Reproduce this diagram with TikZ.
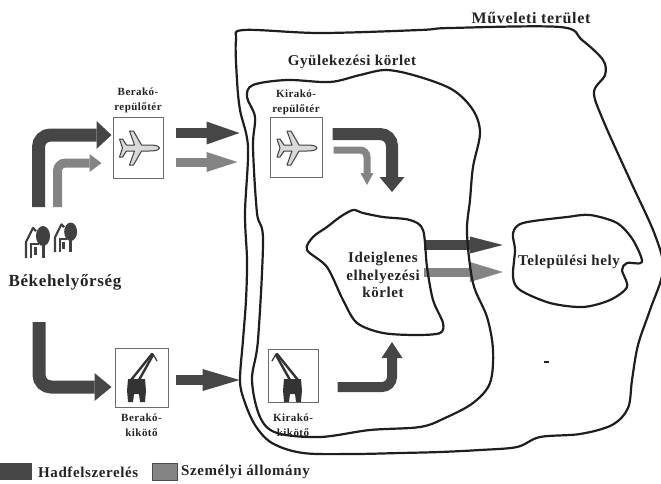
\documentclass[tikz,border=0pt]{standalone}
\usepackage{fontspec}
\setmainfont{Liberation Serif}[LetterSpace=4]
\usetikzlibrary{arrows.meta}

\definecolor{hadgray}{RGB}{70,70,70}
\definecolor{szemgray}{RGB}{132,132,132}
\definecolor{linegray}{RGB}{30,30,30}
\definecolor{textgray}{RGB}{35,35,35}

\tikzset{
  region/.style={draw=linegray, line width=2.2pt, line join=round},
  iconbox/.style={draw=gray!85!black, line width=1pt, fill=white, inner sep=0pt},
  boxlabel/.style={font=\bfseries\fontsize{11}{15}\selectfont, align=center, text=textgray, inner sep=0pt},
  bigtext/.style={font=\bfseries\fontsize{15}{17.5}\selectfont, align=center, text=textgray, inner sep=0pt},
  hadarrow/.style={draw=hadgray, line width=#1},
  szemarrow/.style={draw=szemgray, line width=#1},
  plane/.pic={
    \filldraw[fill=gray!30, draw=black!75, line width=1pt, line join=round]
      (21,0) .. controls (20,-2.5) and (16,-3) .. (11,-3) -- (3,-3) -- (-5,-17) -- (-9,-17)
      -- (-4,-3) -- (-12,-3) -- (-16,-9) -- (-19,-9) -- (-16,0) -- (-19,9) -- (-16,9)
      -- (-12,3) -- (-4,3) -- (-9,17) -- (-5,17) -- (3,3) -- (11,3)
      .. controls (16,3) and (20,2.5) .. (21,0) -- cycle;
  },
  crane/.pic={
    \fill[black!80] (-9,-6) -- (8,-6) -- (9,6) -- (-10,6) -- cycle;
    \fill[black!80] (-10,5) -- (-9,17) -- (-4,17) -- (-3,9) -- (2,9) -- (3,17) -- (8,17) -- (9,5) -- cycle;
    \draw[black!80, line width=2.4pt, line cap=round] (-6,-5) -- (15,-31);
    \draw[black!80, line width=2.4pt, line cap=round] (2,-5) -- (16,-30);
    \draw[black!80, line width=1.2pt] (16,-31) -- (20,-24);
  },
  house/.pic={
    \draw[black!75, line width=2.2pt, line join=round] (0,0) -- (0,-16) -- (7,-30) -- (10,-27);
    \draw[black!75, line width=2.2pt] (5,0) -- (5,-14) -- (13,-14);
    \fill[black!75] (8,-3) rectangle (11,-11);
    \fill[black!75] (17,-22) ellipse (7pt and 10pt);
    \fill[black!75] (15.5,-15) rectangle (19,0);
  }
}

\begin{document}
\begin{tikzpicture}[x=1pt, y=-1pt]
  \useasboundingbox (0,0) rectangle (661,483);

  % icon boxes with their labels
  \foreach \boxname/\bx/\by/\bw/\bh/\toptext/\bottext/\ly in {
      berakorep/138/147.5/50/61/Berakó-/repülőtér/100.5,
      kirakorep/296/147/52/60/Kirakó-/repülőtér/102.5,
      berakokik/141.5/377.5/53/59/Berakó-/kikötő/425.5,
      kirakokik/293/375.5/50/53/Kirakó-/kikötő/425.5}{
    \node[iconbox, minimum width=\bw pt, minimum height=\bh pt] (\boxname) at (\bx,\by) {};
    \node[boxlabel] (\boxname-label) at (\bx,\ly) {\toptext\\\bottext};
  }
  \pic at (138.5,148) {plane};
  \pic at (296,148) {plane};
  \pic at (137,385) {crane};
  \pic[xscale=-1] at (292,385) {crane};

  % garrison
  \pic at (26,258) {house};
  \pic[scale=0.92] at (55,252) {house};
  \node[bigtext, font=\bfseries\fontsize{17}{20}\selectfont] (bekeh) at (65,282) {Békehelyőrség};

  % free ends
  \coordinate (hadsrc) at (38.5,207);
  \coordinate (szemsrc) at (57.5,207);
  \coordinate (hadsrc2) at (39,322);
  \coordinate (hadtip1) at (392,192);
  \coordinate (szemtip1) at (367,185);
  \coordinate (hadtip2) at (392,342);

  % texts of the areas
  \node[bigtext, font=\bfseries\fontsize{16}{18}\selectfont] (muvel) at (531,18) {Műveleti terület};
  \node[bigtext] (gyulek) at (352,62) {Gyülekezési körlet};
  \node[bigtext] (ideigl) at (383,275) {Ideiglenes\\elhelyezési\\körlet};
  \node[bigtext] (telep) at (569,262) {Települési hely};

  % arrows
  \draw[hadarrow=13pt, rounded corners=12pt, -{Triangle[length=15pt, width=28pt, line width=0pt]}]
    (hadsrc) |- ([shift={(-1,-12.5)}]berakorep.west);
  \draw[szemarrow=9pt, rounded corners=8pt, -{Triangle[length=12pt, width=18pt, line width=0pt]}]
    (szemsrc) |- ([shift={(-11,15.5)}]berakorep.west);
  \draw[hadarrow=10pt, -{Triangle[length=33pt, width=23pt, line width=0pt]}]
    ([shift={(12,-14.5)}]berakorep.east) -- ([shift={(-30,-14)}]kirakorep.west);
  \draw[szemarrow=9pt, -{Triangle[length=31pt, width=20pt, line width=0pt]}]
    ([shift={(12,14.5)}]berakorep.east) -- ([shift={(-32,15)}]kirakorep.west);
  \draw[hadarrow=12pt, rounded corners=12pt, -{Triangle[length=15pt, width=25pt, line width=0pt]}]
    ([shift={(10,-13)}]kirakorep.east) -| (hadtip1);
  \draw[szemarrow=7pt, rounded corners=7pt, -{Triangle[length=12pt, width=13pt, line width=0pt]}]
    ([shift={(11,3)}]kirakorep.east) -| (szemtip1);
  \draw[hadarrow=10pt, -{Triangle[length=33pt, width=17pt, line width=0pt]}]
    ([shift={(4,-30)}]ideigl.east) -- ([shift={(-15,-17)}]telep.west);
  \draw[szemarrow=9pt, -{Triangle[length=33pt, width=20pt, line width=0pt]}]
    ([shift={(4,-3)}]ideigl.east) -- ([shift={(-15,10)}]telep.west);
  \draw[hadarrow=13pt, rounded corners=12pt, -{Triangle[length=17pt, width=28pt, line width=0pt]}]
    (hadsrc2) |- ([shift={(-3,9.5)}]berakokik.west);
  \draw[hadarrow=10pt, -{Triangle[length=37pt, width=22pt, line width=0pt]}]
    ([shift={(7,2.5)}]berakokik.east) -- ([shift={(-28,4.5)}]kirakokik.west);
  \draw[hadarrow=10pt, rounded corners=10pt, -{Triangle[length=16pt, width=21pt, line width=0pt]}]
    ([shift={(19,11.5)}]kirakokik.east) -| (hadtip2);

  % areas
  \draw[region] plot[smooth cycle, tension=0.55] coordinates {
    (236,40) (244,30) (320,33) (420,30) (450,28) (560,27) (582,40) (603,60) (605,75)
    (594,92) (603,120) (630,180) (655,235) (663,270) (650,310) (638,345) (632,380)
    (628,408) (612,425) (580,434) (540,437) (517,447) (480,450) (440,452) (400,453)
    (353,454) (303,453) (272,443) (255,425) (244,400) (240,380) (243,340) (246,300)
    (247,260) (245,213) (248,147) (240,110) (237,80)};
  \draw[region] plot[smooth cycle, tension=0.55] coordinates {
    (247,97) (253,85) (287,80) (330,82) (360,75) (387,70) (420,77) (453,90) (473,110)
    (480,133) (473,167) (470,200) (467,233) (473,283) (487,317) (493,350) (490,383)
    (473,403) (445,418) (420,427) (370,430) (320,437) (277,433) (260,417) (252,380)
    (258,340) (263,240) (257,213) (253,147) (255,117)};
  \draw[region] plot[smooth cycle, tension=0.5] coordinates {
    (353,210) (363,213) (383,217) (410,220) (423,230) (427,267) (433,300) (443,323)
    (440,333) (417,335) (383,333) (357,323) (343,300) (327,267) (307,250) (313,237)
    (327,227) (340,217)};
  \draw[region] plot[smooth cycle, tension=0.5] coordinates {
    (513,233) (523,223) (567,217) (590,215) (617,223) (633,240) (642,262) (627,263)
    (622,270) (627,287) (610,300) (583,307) (550,303) (520,290) (513,277) (515,250)};
  \draw[linegray, line width=1.2pt] (544,362) -- (549,362);

  % legend
  \fill[hadgray] (0,463) rectangle (32,480);
  \node[bigtext, anchor=west] (hadleg) at (38,472) {Hadfelszerelés};
  \filldraw[fill=szemgray, draw=gray!60!black, line width=0.8pt] (152,463) rectangle (177,480);
  \node[bigtext, anchor=west] (szemleg) at (181,472) {Személyi állomány};
\end{tikzpicture}
\end{document}
